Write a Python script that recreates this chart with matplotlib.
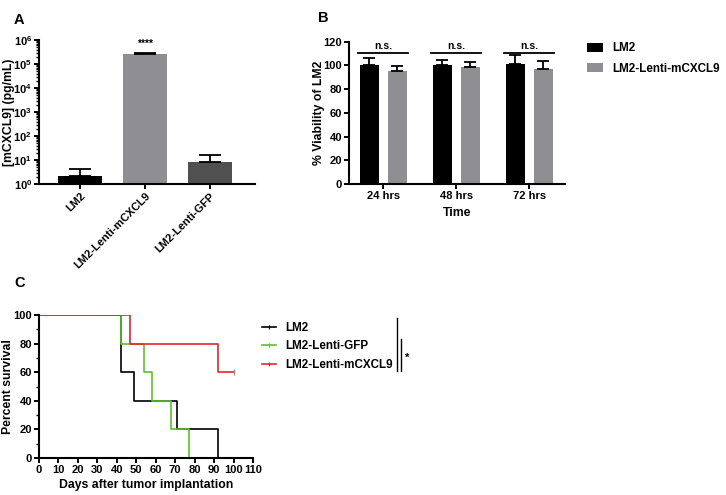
import numpy as np
import matplotlib
matplotlib.use("Agg")
import matplotlib.pyplot as plt
from matplotlib.ticker import LogLocator, NullFormatter, MultipleLocator
from matplotlib.lines import Line2D

plt.rcParams['font.family'] = ['Liberation Sans', 'DejaVu Sans']
plt.rcParams['font.weight'] = 'bold'
plt.rcParams['mathtext.fontset'] = 'custom'
plt.rcParams['mathtext.rm'] = 'Liberation Sans:bold'
plt.rcParams['mathtext.bf'] = 'Liberation Sans:bold'
plt.rcParams['mathtext.default'] = 'bf'

# ---- Panel A data ----
a_groups = ['LM2', 'LM2-Lenti-mCXCL9', 'LM2-Lenti-GFP']
a_values = [2.15, 2.6e5, 8.5]
a_err = [2.05, 0.2e5, 7.5]
a_colors = ['#000000', '#8e8e93', '#505050']

# ---- Panel B data ----
b_times = ['24 hrs', '48 hrs', '72 hrs']
b_lm2 = [100, 100, 101.5]
b_lm2_err = [6.5, 4.5, 7]
b_cxcl9 = [95, 98.5, 97.3]
b_cxcl9_err = [4.5, 4, 6.3]

# ---- Panel C data (Kaplan-Meier) ----
c_lm2_t = [0, 42, 49, 71, 92]
c_lm2_s = [100, 60, 40, 20, 0]
c_gfp_t = [0, 42, 54, 58, 68, 77]
c_gfp_s = [100, 80, 60, 40, 20, 0]
c_cx_t = [0, 47, 92, 100]
c_cx_s = [100, 80, 60, 60]

W, H = 726, 495
fig = plt.figure(figsize=(W / 100, H / 100), dpi=100)

TICK = 8
LAB = 8.8
LEG = 8.4


def px(x0, y0, x1, y1):
    return [x0 / W, 1 - y1 / H, (x1 - x0) / W, (y1 - y0) / H]


def style(ax):
    for s in ['top', 'right']:
        ax.spines[s].set_visible(False)
    for s in ['left', 'bottom']:
        ax.spines[s].set_linewidth(1.5)
    ax.tick_params(width=1.4, length=3.5, labelsize=TICK, pad=1.5)
    ax.tick_params(which='minor', width=1.0, length=2)


# Panel A
axA = fig.add_axes(px(39, 40, 255, 184))
xa = np.arange(len(a_groups))
axA.bar(xa, a_values, width=0.68, color=a_colors, zorder=2)
axA.errorbar(xa, a_values, yerr=[np.zeros(3), a_err], fmt='none',
             ecolor='black', elinewidth=1.3, capsize=8, capthick=1.3, zorder=3)
axA.set_yscale('log')
axA.set_ylim(1, 1e6)
axA.set_xlim(-0.63, 2.69)
axA.yaxis.set_major_locator(LogLocator(base=10, numticks=10))
axA.yaxis.set_minor_locator(LogLocator(base=10, subs=np.arange(2, 10), numticks=20))
axA.yaxis.set_minor_formatter(NullFormatter())
axA.set_xticks(xa)
axA.set_xticklabels(a_groups, rotation=45, ha='right', rotation_mode='anchor')
axA.set_ylabel('[mCXCL9] (pg/mL)', fontsize=LAB, fontweight='bold')
axA.yaxis.set_label_coords((15 - 39) / 216, 0.5)
style(axA)
axA.annotate('****', xy=(1, a_values[1] + a_err[1]), xytext=(0, 3),
             textcoords='offset points', ha='center', va='bottom',
             fontsize=7.5, fontweight='bold')

# Panel B
axB = fig.add_axes(px(349, 41.7, 565, 184))
xb = np.arange(len(b_times))
off, bw = 0.19, 0.26
axB.bar(xb - off, b_lm2, width=bw, color='black', label='LM2', zorder=2)
axB.bar(xb + off, b_cxcl9, width=bw, color='#8e8e93', label='LM2-Lenti-mCXCL9', zorder=2)
axB.errorbar(xb - off, b_lm2, yerr=[np.zeros(3), b_lm2_err], fmt='none',
             ecolor='black', elinewidth=1.3, capsize=4.5, capthick=1.3)
axB.errorbar(xb + off, b_cxcl9, yerr=[np.zeros(3), b_cxcl9_err], fmt='none',
             ecolor='black', elinewidth=1.3, capsize=4.5, capthick=1.3)
axB.set_ylim(0, 120)
axB.set_xlim(-0.47, 2.49)
axB.yaxis.set_major_locator(MultipleLocator(20))
axB.set_xticks(xb)
axB.set_xticklabels(b_times)
axB.set_ylabel('% Viability of LM2', fontsize=LAB, fontweight='bold')
axB.yaxis.set_label_coords((325 - 349) / 216, 0.5)
axB.set_xlabel('Time', fontsize=LAB, fontweight='bold', labelpad=4)
style(axB)
for i in xb:
    axB.plot([i - off - bw / 2 - 0.02, i + off + bw / 2 + 0.02], [110.7, 110.7],
             color='black', lw=1.3, clip_on=False)
    axB.text(i, 112, 'n.s.', ha='center', va='bottom', fontsize=7.5, fontweight='bold')
axB.legend(loc='upper left', bbox_to_anchor=(1.08, 1.03), frameon=False,
           fontsize=LEG, handlelength=1.4, handleheight=0.8, handletextpad=0.8,
           labelspacing=0.75, borderaxespad=0)

# Panel C
axC = fig.add_axes(px(39, 315, 253, 458))
lines = []
lines += axC.step(c_lm2_t, c_lm2_s, where='post', color='black', lw=1.2, label='LM2')
lines += axC.step(c_gfp_t, c_gfp_s, where='post', color='#5cc12b', lw=1.2, label='LM2-Lenti-GFP')
lines += axC.step(c_cx_t, c_cx_s, where='post', color='#e3262b', lw=1.2, label='LM2-Lenti-mCXCL9')
axC.plot([c_cx_t[-1]], [c_cx_s[-1]], marker='|', ms=4, mew=1.0, color='#909090')
axC.set_xlim(0, 110)
axC.set_ylim(0, 100)
axC.xaxis.set_major_locator(MultipleLocator(10))
axC.yaxis.set_major_locator(MultipleLocator(20))
axC.yaxis.set_minor_locator(MultipleLocator(10))
axC.set_xlabel('Days after tumor implantation', fontsize=LAB, fontweight='bold', labelpad=3)
axC.set_ylabel('Percent survival', fontsize=LAB, fontweight='bold')
axC.yaxis.set_label_coords((14 - 39) / 214, 0.5)
style(axC)
hands = [Line2D([0], [0], color=l.get_color(), lw=1.2, marker='|', ms=3, mew=0.8)
         for l in lines]
axC.legend(hands, [l.get_label() for l in lines], loc='upper left',
           bbox_to_anchor=(1.02, 0.985), frameon=False, fontsize=LEG,
           handlelength=1.2, handletextpad=0.8, labelspacing=0.55, borderaxespad=0)


# significance bracket next to legend C
def fline(x0, y0, x1, y1):
    fig.add_artist(Line2D([x0 / W, x1 / W], [1 - y0 / H, 1 - y1 / H],
                          color='black', lw=1.0))


fline(397, 318, 397, 371)
fline(401, 339, 401, 371)
fig.text(405 / W, 1 - 358 / H, '*', fontsize=8, fontweight='bold', va='center')

# panel letters
fig.text(14 / W, 1 - 20 / H, 'A', fontsize=10.5, fontweight='bold', va='center')
fig.text(318 / W, 1 - 18 / H, 'B', fontsize=10.5, fontweight='bold', va='center')
fig.text(14 / W, 1 - 283 / H, 'C', fontsize=10.5, fontweight='bold', va='center')

fig.savefig('out.png', dpi=100)
